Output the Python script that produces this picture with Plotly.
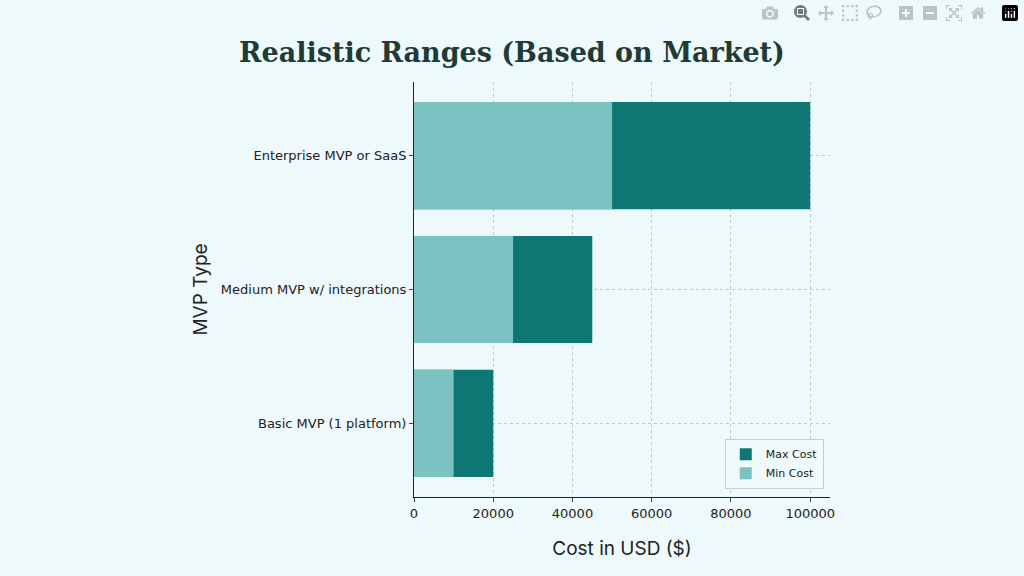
import plotly.graph_objects as go

categories = ["Basic MVP (1 platform)", "Medium MVP w/ integrations", "Enterprise MVP or SaaS"]
max_cost = [20000, 45000, 100000]
min_cost = [10000, 25000, 50000]

fig = go.Figure()
fig.add_bar(y=categories, x=max_cost, orientation="h", name="Max Cost",
            marker=dict(color="#0e7773", line=dict(width=0)), width=0.8)
fig.add_bar(y=categories, x=min_cost, orientation="h", name="Min Cost",
            marker=dict(color="#7bc3c2", line=dict(width=0)), width=0.8)

fig.update_layout(
    barmode="overlay",
    width=1024, height=576,
    paper_bgcolor="#eef9fb", plot_bgcolor="rgba(0,0,0,0)",
    margin=dict(l=414, r=194, t=82, b=79),
    title=dict(text="<b>Realistic Ranges (Based on Market)</b>", x=0.5, xanchor="center", y=0.925,
               font=dict(family="DejaVu Serif", size=27, color="#1f3b36")),
    font=dict(family="DejaVu Sans", color="#222"),
    xaxis=dict(range=[0, 105000], tickvals=[0, 20000, 40000, 60000, 80000, 100000],
               ticktext=["0", "20000", "40000", "60000", "80000", "100000"],
               showgrid=True, gridcolor="#bcc9c9", griddash="dot", gridwidth=0.7,
               showline=True, linecolor="#222", ticks="outside", ticklen=4,
               tickfont=dict(size=13), zeroline=False,
               title=dict(text="Cost in USD ($)", font=dict(family="Inter", size=19), standoff=22)),
    yaxis=dict(range=[-0.55, 2.55], showgrid=True, gridcolor="#bcc9c9", griddash="dot", gridwidth=0.7,
               showline=True, linecolor="#222", ticks="outside", ticklen=4,
               tickfont=dict(size=13),
               title=dict(text="MVP Type", font=dict(family="Inter", size=19), standoff=8)),
    legend=dict(x=0.985, y=0.02, xanchor="right", yanchor="bottom",
                bgcolor="rgba(240,250,250,0.8)", bordercolor="#ccc", borderwidth=1,
                font=dict(size=11), traceorder="normal"),
)
fig.write_html("out.html", post_script="document.body.style.margin='0';document.body.style.background='#eef9fb';")
